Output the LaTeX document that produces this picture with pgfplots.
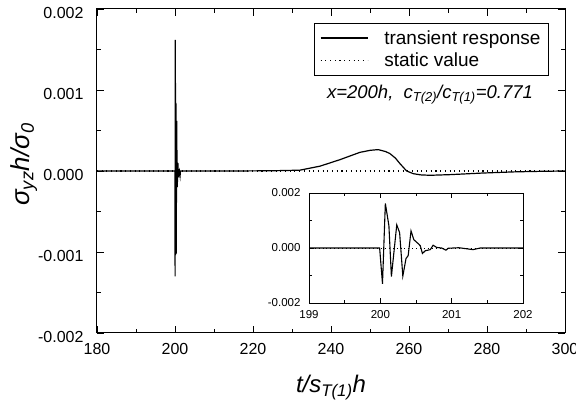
\documentclass[border=0pt]{standalone}
\usepackage{fontspec}
\setmainfont{Liberation Sans}
\usepackage{pgfplots}
\pgfplotsset{compat=1.18}
\usepackage{pgfplotstable}
\pgfplotstableread{
t v
180 0
199.99 0
200.03 -0.00130
200.07 0.00162
200.12 0.00081
200.155 -0.00104
200.23 0.00084
200.27 0.00056
200.315 -0.00102
200.36 -0.00038
200.39 -0.00028
200.43 0.00062
200.47 0.00030
200.53 0.00016
200.56 0.00008
200.59 -0.00020
200.63 -0.00010
200.70 -0.00006
200.74 0.00010
200.79 0.00002
200.86 0.00000
200.92 -0.00008
200.95 -0.00001
201.10 0.00001
201.30 -0.00006
201.40 0.00000
202 0
215 0
225 0.000003
232 0.00001
237.2 0.00006
242.3 0.00014
247.4 0.00023
250 0.000255
252.1 0.000264
254 0.00024
255.1 0.000215
256.5 0.00016
257.7 0.00009
259.4 0.0
261.1 -0.000033
263 -0.000048
265.4 -0.000053
270.5 -0.000045
279 -0.000025
287.5 -0.00001
295 -0.000003
300 0
}\trans
\pgfplotstableread{
t v
180 0
300 0
}\static
\begin{document}
\begin{tikzpicture}
\begin{axis}[
  scale only axis, width=468pt, height=324pt,
  at={(0pt,0pt)}, anchor=south west,
  xmin=180, xmax=300, ymin=-0.002, ymax=0.002,
  xtick={180,200,...,300}, minor x tick num=1,
  ytick={-0.002,-0.001,0,0.001,0.002},
  yticklabels={-0.002,-0.001,0.000,0.001,0.002},
  minor y tick num=1,
  scaled y ticks=false,
  tick align=inside, xtick pos=both, ytick pos=both,
  major tick length=7pt, minor tick length=4pt,
  tick style={black, line width=0.7pt},
  axis line style={line width=1pt},
  /pgf/number format/assume math mode=true,
  ticklabel style={font=\fontsize{16}{19}\selectfont},
  yticklabel style={xshift=-10pt, yshift=-4pt},
  xticklabel style={yshift=-7pt},
  xlabel={\itshape t/s\textsubscript{T(1)}h},
  xlabel style={font=\fontsize{24}{28}\selectfont, at={(axis description cs:0.5,-0.185)}, anchor=base},
  ylabel={\itshape σ\textsubscript{yz}h/σ\textsubscript{0}},
  ylabel style={font=\fontsize{26}{30}\selectfont, at={(axis description cs:-0.156,0.52)}, anchor=center},
  legend style={at={(1,1)}, anchor=north east, xshift=-16pt, yshift=-14pt,
    font=\fontsize{19}{22}\selectfont, draw=black, line width=0.8pt,
    inner xsep=6pt, inner ysep=5pt, cells={anchor=west}, row sep=3pt,
    /tikz/every odd column/.append style={column sep=14pt}},
  legend image code/.code={\draw[#1] (0pt,0pt) -- (47pt,0pt);},
]
\addplot[black, line width=1.2pt] table[x=t,y=v] {\trans};
\addlegendentry{transient response}
\addplot[black, line width=1.1pt, dash pattern=on 1.1pt off 3.6pt] table[x=t,y=v] {\static};
\addlegendentry{static value}
\node[font=\fontsize{18.5}{22}\selectfont\itshape] at (rel axis cs:0.7115,0.735) {x=200h,\ \ c\textsubscript{T(2)}/c\textsubscript{T(1)}=0.771};
\end{axis}
\begin{axis}[
  scale only axis, width=214pt, height=110pt,
  at={(212pt,30pt)}, anchor=south west,
  axis background/.style={fill=white},
  xmin=199, xmax=202, ymin=-0.002, ymax=0.002,
  xtick={199,200,201,202}, minor x tick num=1,
  ytick={-0.002,0,0.002},
  yticklabels={-0.002,0.000,0.002},
  minor ytick={-0.001,0.001},
  scaled y ticks=false,
  tick align=inside, xtick pos=both, ytick pos=both,
  major tick length=5pt, minor tick length=3pt,
  tick style={black, line width=0.6pt},
  axis line style={line width=0.9pt},
  /pgf/number format/assume math mode=true,
  ticklabel style={font=\fontsize{11.5}{14}\selectfont},
  yticklabel style={xshift=-5pt},
  xticklabel style={yshift=-4pt},
]
\addplot[black, line width=1.1pt] table[x=t,y=v] {\trans};
\addplot[black, line width=0.9pt, dash pattern=on 0.9pt off 3pt] table[x=t,y=v] {\static};
\end{axis}
\pgfresetboundingbox
\path[use as bounding box] (-97pt,-73pt) rectangle (479pt,333pt);
\end{tikzpicture}
\end{document}
